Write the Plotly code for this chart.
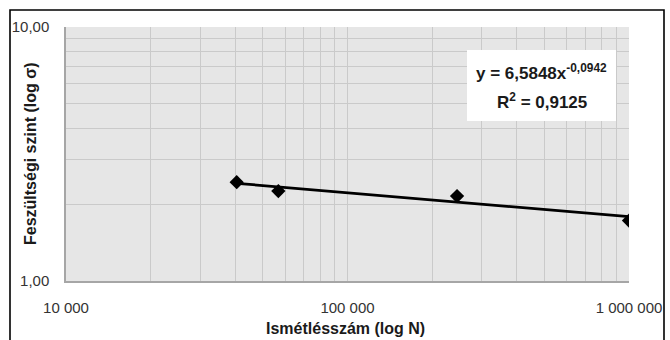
import numpy as np
import plotly.graph_objects as go

# Fatigue test results: cycles to failure vs. stress level
cycles = [40400, 56800, 245000, 1000000]
stress = [2.45, 2.26, 2.16, 1.73]

# Power-law trendline coefficients  y = a * x^b
coef_a = 6.5848
coef_b = -0.0942
r_squared = 0.9125

x_tick_vals = [1e4, 1e5, 1e6]
x_tick_text = ["10 000", "100 000", "1 000 000"]
y_tick_vals = [1, 10]
y_tick_text = ["1,00", "10,00"]

FONT = "Liberation Sans, Arial, sans-serif"


def hu(v):
    return f"{v:.4f}".replace(".", ",")


trend_x = np.array([min(cycles), max(cycles)], dtype=float)
trend_y = coef_a * trend_x ** coef_b

fig = go.Figure()
fig.add_trace(go.Scatter(
    x=list(trend_x), y=list(trend_y), mode="lines",
    line=dict(color="black", width=2.8), showlegend=False, hoverinfo="skip"))
fig.add_trace(go.Scatter(
    x=cycles, y=stress, mode="markers",
    marker=dict(symbol="diamond", size=11, color="black"),
    showlegend=False))

W, H = 670, 340
L, R, T, B = 66, 629, 27, 281
pw, ph = R - L, B - T


def px(x):
    return (x - L) / pw


def py(y):
    return (B - y) / ph


axis_common = dict(
    type="log", tickmode="array",
    showgrid=True, gridcolor="#cacaca", gridwidth=1,
    minor=dict(dtick="D1", showgrid=True, gridcolor="#cacaca", gridwidth=1,
               ticks=""),
    showline=True, linecolor="#a6a6a6", linewidth=1.5,
    ticks="", tickfont=dict(size=15, color="#333333"),
    ticklabelstandoff=12, zeroline=False, automargin=False,
)

fig.update_layout(
    width=W, height=H,
    margin=dict(l=L, r=W - R, t=T, b=H - B),
    paper_bgcolor="white", plot_bgcolor="#e6e6e6",
    font=dict(family=FONT, color="#333333"),
    xaxis=dict(axis_common, range=[4, 6],
               tickvals=x_tick_vals, ticktext=x_tick_text),
    yaxis=dict(axis_common, range=[0, 1],
               tickvals=y_tick_vals, ticktext=y_tick_text),
    shapes=[
        # outer frame of the figure
        dict(type="rect", xref="paper", yref="paper",
             x0=px(10), x1=px(664), y0=py(360), y1=py(10),
             line=dict(color="black", width=1.6), fillcolor="rgba(0,0,0,0)",
             layer="below"),
        # white box behind the trendline equation
        dict(type="rect", xref="paper", yref="paper",
             x0=px(467), x1=px(616), y0=py(121), y1=py(50),
             line=dict(width=0), fillcolor="white", layer="above"),
    ],
    annotations=[
        dict(xref="paper", yref="paper", x=px(541), y=py(72),
             text="<b>y = %sx<sup>%s</sup></b>" % (hu(coef_a), hu(coef_b)),
             showarrow=False, font=dict(size=17, color="#1a1a1a", family=FONT),
             xanchor="center", yanchor="middle"),
        dict(xref="paper", yref="paper", x=px(542), y=py(101),
             text="<b>R<sup>2</sup> = %s</b>" % hu(r_squared),
             showarrow=False, font=dict(size=17, color="#1a1a1a", family=FONT),
             xanchor="center", yanchor="middle"),
        dict(xref="paper", yref="paper", x=px(345), y=py(328),
             text="<b>Ismétlésszám (log N)</b>", showarrow=False,
             font=dict(size=16, color="#1a1a1a", family=FONT),
             xanchor="center", yanchor="middle"),
        dict(xref="paper", yref="paper", x=px(30), y=py(154),
             text="<b>Feszültségi szint (log σ)</b>", showarrow=False,
             textangle=-90,
             font=dict(size=16, color="#1a1a1a", family=FONT),
             xanchor="center", yanchor="middle"),
    ],
)

fig.write_html("out.html")
